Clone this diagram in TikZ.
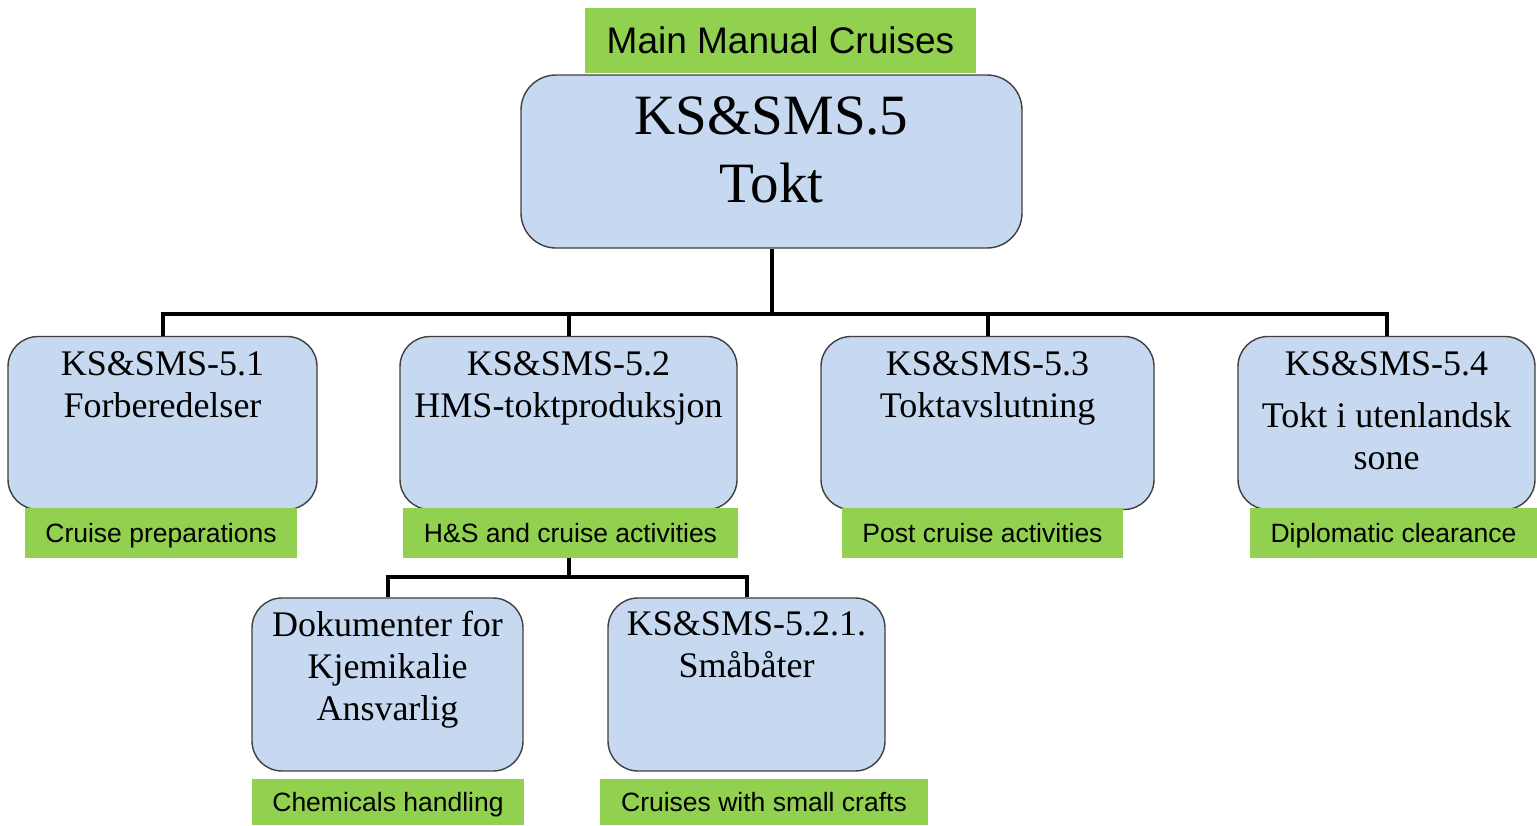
\documentclass[tikz,border=0pt]{standalone}
\usepackage{fontspec}
\setmainfont{Liberation Serif}
\setsansfont{Liberation Sans}
\usetikzlibrary{positioning}

\definecolor{unitblue}{HTML}{C6D9F0}
\definecolor{taggreen}{HTML}{92D050}
\definecolor{unitline}{HTML}{3F3F3F}

\begin{document}
\begin{tikzpicture}[x=1pt,y=-1pt,
  unit/.style={draw=unitline,line width=1.4pt,fill=unitblue,rounded corners=30pt,
    minimum width=#1,minimum height=173pt,inner sep=0pt},
  unittext/.style={font=\fontsize{36}{42}\selectfont,align=center,inner sep=0pt},
  tag/.style={fill=taggreen,minimum width=#1,minimum height=50pt,inner sep=0pt,
    text height=19pt,text depth=0pt,
    font=\sffamily\fontsize{26.5}{30}\selectfont},
  bus/.style={line width=4pt}]
\useasboundingbox (0,0) rectangle (1537,825);

% top
\node (tokt) at (771.5,161.5) [unit=501pt,rounded corners=35pt] {};
\node (tokttext) [below=22pt of tokt.north,unittext,font=\fontsize{57}{68}\selectfont] {KS\&SMS.5\\Tokt};
\node (main) at (780.5,40.5) [tag=391pt,minimum height=65pt,text height=26.5pt,
  font=\sffamily\fontsize{37}{40}\selectfont] {Main Manual Cruises};

% second level
\node (s51) at (162.5,423) [unit=309pt] {};
\node (s52) at (568.5,423) [unit=337pt] {};
\node (s53) at (987.5,423) [unit=333pt] {};
\node (s54) at (1386.5,423) [unit=297pt] {};

\node (s51text) [below=15.5pt of s51.north,unittext] {KS\&SMS-5.1\\Forberedelser};
\node (s52text) [below=15.5pt of s52.north,unittext] {KS\&SMS-5.2\\HMS-toktproduksjon};
\node (s53text) [below=15.5pt of s53.north,unittext] {KS\&SMS-5.3\\Toktavslutning};
\node (s54text) [below=15.5pt of s54.north,unittext] {KS\&SMS-5.4\\[10pt]Tokt i utenlandsk\\sone};

\coordinate (bus1) at (771.5,314);
\draw[bus] (tokt.south) -- (bus1);
\draw[bus] (s51.north) |- (bus1);
\draw[bus] (s54.north) |- (bus1);
\draw[bus] (s52.north) -- (s52.north |- bus1);
\draw[bus] (s53.north) -- (s53.north |- bus1);

\node (t51) at (161,532.5) [tag=272pt] {Cruise preparations};
\node (t52) at (570.5,532.5) [tag=335pt] {H\&S and cruise activities};
\node (t53) at (982.5,532.5) [tag=281pt] {Post cruise activities};
\node (t54) at (1393.5,532.5) [tag=287pt] {Diplomatic clearance};

% third level
\node (kjem) at (387.5,684.5) [unit=271pt] {};
\node (s521) at (746.5,684.5) [unit=277pt] {};

\node (kjemtext) [below=14pt of kjem.north,unittext] {Dokumenter for\\Kjemikalie\\Ansvarlig};
\node (s521text) [below=14pt of s521.north,unittext] {KS\&SMS-5.2.1.\\Småbåter};

\coordinate (bus2) at (568.5,577);
\draw[bus] (t52.south -| bus2) -- (bus2);
\draw[bus] (kjem.north) |- (bus2);
\draw[bus] (s521.north) |- (bus2);

\node (tkjem) at (388,802) [tag=272pt,minimum height=46pt] {Chemicals handling};
\node (t521) at (764,802) [tag=328pt,minimum height=46pt] {Cruises with small crafts};

\end{tikzpicture}
\end{document}
